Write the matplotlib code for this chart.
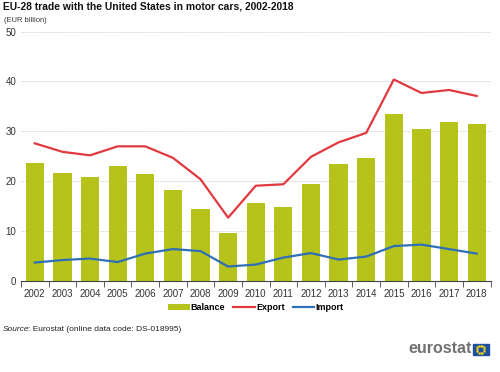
import numpy as np
import matplotlib.pyplot as plt
from matplotlib.patches import Rectangle

years = [str(y) for y in range(2002, 2019)]
balance = [23.7, 21.7, 20.9, 23.1, 21.5, 18.2, 14.4, 9.7, 15.6, 14.8, 19.4,
           23.4, 24.7, 33.4, 30.4, 31.8, 31.5]
export = [27.6, 25.9, 25.2, 27.0, 27.0, 24.7, 20.4, 12.7, 19.1, 19.4, 24.9,
          27.8, 29.7, 40.4, 37.7, 38.3, 37.1]
imports = [3.7, 4.2, 4.5, 3.8, 5.5, 6.4, 6.0, 2.9, 3.3, 4.7, 5.6, 4.3, 4.9,
           7.0, 7.3, 6.4, 5.5]

plt.rcParams['font.family'] = ['Liberation Sans', 'DejaVu Sans']

fig = plt.figure(figsize=(5.0, 3.72), dpi=100)
ax = fig.add_axes([0.042, 0.2446, 0.939, 0.6704])

x = np.arange(len(years))
b = ax.bar(x, balance, width=0.66, color='#b5c31a', label='Balance', zorder=2)
l1, = ax.plot(x, export, color='#e2393f', lw=1.6, label='Export', zorder=3)
l2, = ax.plot(x, imports, color='#2f6fb7', lw=1.6, label='Import', zorder=3)

ax.set_xlim(-0.5, len(years) - 0.5)
ax.set_ylim(0, 50)
ax.set_yticks(range(0, 51, 10))
ax.set_xticks(x)
ax.set_xticklabels(years)
ax.tick_params(axis='both', labelsize=7, colors='#333333', length=0)
ax.tick_params(axis='x', pad=6)
ax.grid(axis='y', color='#c8c8c8', lw=0.6, ls=(0, (1, 1)), zorder=0)
for s in ['top', 'right', 'left']:
    ax.spines[s].set_visible(False)
ax.spines['bottom'].set_color('#444444')
# little ticks between the years
ax.set_xticks(np.arange(-0.5, len(years), 1), minor=True)
ax.tick_params(axis='x', which='minor', length=4, color='#444444')

fig.text(0.006, 0.996, 'EU-28 trade with the United States in motor cars, 2002-2018',
         fontsize=7.4, fontweight='bold', va='top', color='#111111')
fig.text(0.008, 0.955, '(EUR billion)', fontsize=5.4, va='top', color='#333333')

ax.legend([b, l1, l2], ['Balance', 'Export', 'Import'], loc='upper center',
          bbox_to_anchor=(0.5, -0.055), ncol=3, frameon=False,
          handlelength=2.4, handletextpad=0.1, columnspacing=0.9,
          prop={'weight': 'bold', 'size': 6.5})

fig.text(0.006, 0.113, 'Source', fontsize=6, style='italic', color='#222222', va='center')
fig.text(0.056, 0.113, ': Eurostat (online data code: DS-018995)', fontsize=6,
         color='#222222', va='center')

# eurostat logo
fig.text(0.943, 0.062, 'eurostat', fontsize=11.5, color='#707070', ha='right',
         va='center', fontweight='bold')
flag = Rectangle((0.945, 0.046), 0.032, 0.03, transform=fig.transFigure,
                 color='#1f4f9f')
fig.patches.append(flag)
ang = np.linspace(0, 2 * np.pi, 12, endpoint=False)
fig.lines.append(plt.Line2D(0.961 + 0.0075 * np.cos(ang), 0.061 + 0.01 * np.sin(ang),
                            transform=fig.transFigure, ls='', marker='o', ms=0.7,
                            color='#f2d21a'))

fig.savefig('out.png', dpi=100)
